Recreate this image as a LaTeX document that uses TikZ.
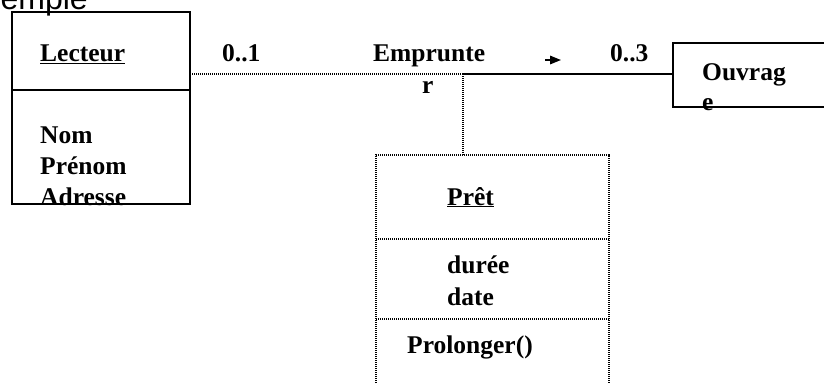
\documentclass[tikz,border=0pt]{standalone}
\usepackage{fontspec}
\setmainfont{Liberation Serif}
\newfontfamily\sansf{Liberation Sans}
\usetikzlibrary{arrows.meta}
\begin{document}
\begin{tikzpicture}[x=1pt,y=-1pt,
  lbl/.style={anchor=base west,inner sep=0pt,font=\fontsize{25.5}{30}\selectfont\bfseries},
  solidline/.style={draw,line width=1.7pt},
  dotline/.style={draw,line width=1.7pt,dash pattern=on 1.4pt off 0.6pt},
]
\useasboundingbox (0,0) rectangle (824,383);
\clip (0,0) rectangle (824,383);

% cut-off title
\node[anchor=base east,inner sep=0pt,font=\sansf\fontsize{32}{36}\selectfont] (title) at (88,9) {Exemple};

% Lecteur class
\draw[solidline] (12,12) rectangle (190,204);
\draw[solidline] (12,90) -- (190,90);
\node[lbl] (lecteur) at (40,61) {\underline{Lecteur}};
\node[lbl] (nom) at (40,143) {Nom};
\node[lbl] (prenom) at (40,174) {Prénom};
\node[lbl] (adresse) at (40,205) {Adresse};

% Ouvrage class
\draw[solidline] (840,43) -- (673,43) -- (673,107) -- (840,107);
\node[lbl] (ouvrag) at (702,80) {Ouvrag};
\node[lbl] (ouvrage) at (702,110) {e};

% Pret association class
\draw[dotline] (376,395) -- (376,155) -- (609,155) -- (609,395);
\draw[dotline] (376,239) -- (609,239);
\draw[dotline] (376,319) -- (609,319);
\node[lbl] (pret) at (447,205) {\underline{Prêt}};
\node[lbl] (duree) at (447,273) {durée};
\node[lbl] (date) at (447,305) {date};
\node[lbl] (prolonger) at (407,353) {Prolonger()};

% association
\coordinate (lectE) at (190,74);
\coordinate (junc) at (463,74);
\coordinate (ouvW) at (673,74);
\coordinate (pretN) at (463,155);
\draw[dotline] (lectE) -- (junc);
\draw[solidline] (junc) -- (ouvW);
\draw[dotline] (junc) -- (pretN);

\node[lbl] (m1) at (222,61) {0..1};
\node[lbl] (emp) at (373,61) {Emprunte};
\node[lbl] (empr) at (422,93) {r};
\node[lbl] (m2) at (610,61) {0..3};
\coordinate (arrA) at (545,60);
\coordinate (arrB) at (561,60);
\draw[line width=1.6pt,-{Triangle[length=11pt,width=8.5pt]}] (arrA) -- (arrB);
\end{tikzpicture}
\end{document}
